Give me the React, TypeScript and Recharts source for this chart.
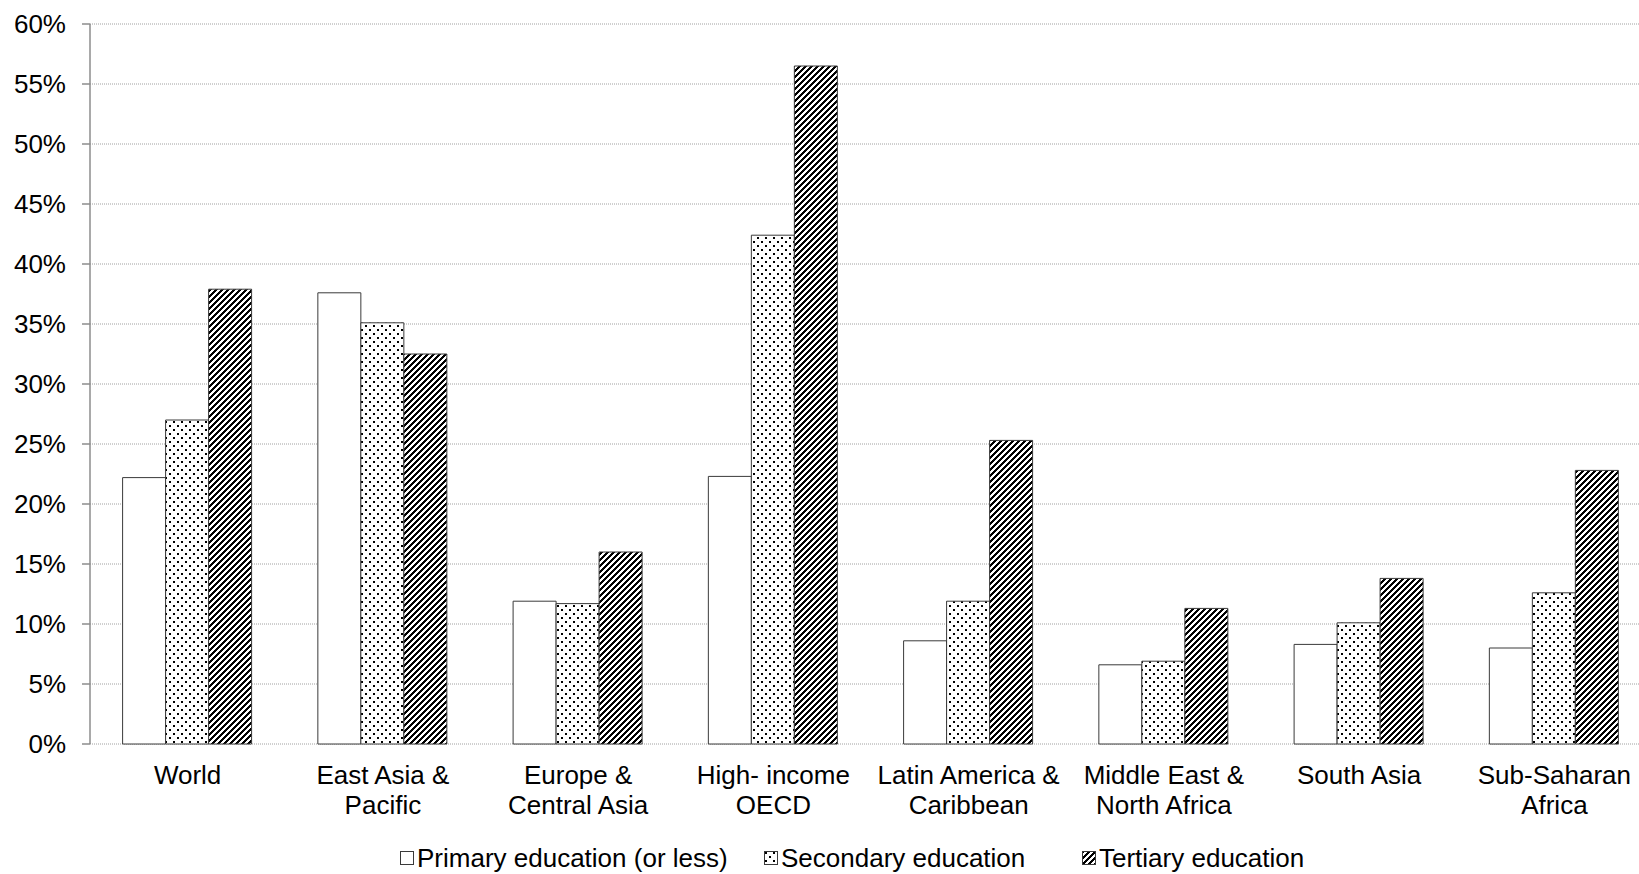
import React from "react";
import {
  BarChart,
  Bar,
  XAxis,
  YAxis,
  CartesianGrid,
  Legend,
} from "recharts";

const FONT = '"Liberation Sans", Arial, sans-serif';

// regions (categories) and how their tick labels wrap
const regions = [
  "World",
  "East Asia & Pacific",
  "Europe & Central Asia",
  "High- income OECD",
  "Latin America & Caribbean",
  "Middle East & North Africa",
  "South Asia",
  "Sub-Saharan Africa",
];
const regionLines = [
  ["World"],
  ["East Asia &", "Pacific"],
  ["Europe &", "Central Asia"],
  ["High- income", "OECD"],
  ["Latin America &", "Caribbean"],
  ["Middle East &", "North Africa"],
  ["South Asia"],
  ["Sub-Saharan", "Africa"],
];

// share, in %
const primary = [22.2, 37.6, 11.9, 22.3, 8.6, 6.6, 8.3, 8.0];
const secondary = [27.0, 35.1, 11.7, 42.4, 11.9, 6.9, 10.1, 12.6];
const tertiary = [37.9, 32.5, 16.0, 56.5, 25.3, 11.3, 13.8, 22.8];

const yTicks = [0, 5, 10, 15, 20, 25, 30, 35, 40, 45, 50, 55, 60];
const edgeTicks = [0, 1, 2, 3, 4, 5, 6, 7, 8];

const seriesInfo = [
  { key: "primary", name: "Primary education (or less)", fill: "#ffffff", legendWidth: 364 },
  { key: "secondary", name: "Secondary education", fill: "url(#dots)", legendWidth: 318 },
  { key: "tertiary", name: "Tertiary education", fill: "url(#stripes)", legendWidth: 260 },
];

const data = regions.map((r, i) => ({
  region: r,
  primary: primary[i],
  secondary: secondary[i],
  tertiary: tertiary[i],
}));

const BORDER = "#3a3a3a";
const AXIS = "#8c8c8c";
const STRIPE = 6; // pattern tile size, px

function CategoryTick(props: any) {
  const { x, y, payload } = props;
  const idx = regions.indexOf(payload.value);
  const lines = regionLines[idx] || [payload.value];
  return (
    <text x={x} y={y} textAnchor="middle" fontSize={26} fontFamily={FONT} fill="#000">
      {lines.map((l, i) => (
        <tspan key={i} x={x} dy={i === 0 ? 40 : 30}>
          {l}
        </tspan>
      ))}
    </text>
  );
}

function LegendContent() {
  return (
    <div
      style={{
        display: "flex",
        alignItems: "center",
        fontFamily: FONT,
        fontSize: 26,
        lineHeight: "30px",
        color: "#000",
        whiteSpace: "nowrap",
      }}
    >
      {seriesInfo.map((s) => (
        <div key={s.key} style={{ display: "flex", alignItems: "center", width: s.legendWidth }}>
          <svg width={14} height={14} style={{ display: "block" }}>
            <rect x={0.5} y={0.5} width={13} height={13} fill={s.fill} stroke={BORDER} />
          </svg>
          <span style={{ marginLeft: 3 }}>{s.name}</span>
        </div>
      ))}
    </div>
  );
}

// pixel staircase for an upward diagonal hatch, like the office fill pattern
const stripeRows = Array.from({ length: STRIPE }, (_, y) => (STRIPE - y) % STRIPE);

export default function App() {
  return (
    <div
      style={{
        position: "absolute",
        left: 0,
        top: 0,
        width: 1639,
        height: 874,
        overflow: "hidden",
        background: "#fff",
      }}
    >
      <BarChart
        width={1660}
        height={874}
        data={data}
        margin={{ top: 24, right: 8, bottom: 0, left: 0 }}
        barCategoryGap="16.7%"
        barGap={0}
      >
        <defs>
          <pattern id="dots" width={8} height={8} patternUnits="userSpaceOnUse">
            <rect width={8} height={8} fill="#fff" />
            <rect x={1} y={1} width={2} height={2} fill="#000" />
            <rect x={5} y={5} width={2} height={2} fill="#000" />
          </pattern>
          <pattern id="stripes" width={STRIPE} height={STRIPE} patternUnits="userSpaceOnUse">
            <rect width={STRIPE} height={STRIPE} fill="#fff" />
            {stripeRows.map((s, y) => (
              <g key={y}>
                <rect x={s} y={y} width={3} height={1} fill="#000" shapeRendering="crispEdges" />
                <rect x={s - STRIPE} y={y} width={3} height={1} fill="#000" shapeRendering="crispEdges" />
              </g>
            ))}
          </pattern>
        </defs>
        <CartesianGrid
          xAxisId="cat"
          vertical={false}
          stroke="#a0a0a0"
          strokeDasharray="1 1"
        />
        <XAxis
          xAxisId="edge"
          type="number"
          domain={[0, 8]}
          ticks={edgeTicks}
          tick={false}
          height={0}
          axisLine={{ stroke: AXIS, strokeWidth: 1.5 }}
          tickLine={{ stroke: AXIS, strokeWidth: 1.5 }}
          tickSize={8}
          allowDataOverflow
        />
        <XAxis
          xAxisId="cat"
          dataKey="region"
          interval={0}
          height={130}
          axisLine={false}
          tickLine={false}
          tickSize={0}
          tickMargin={0}
          tick={<CategoryTick />}
        />
        <YAxis
          domain={[0, 60]}
          ticks={yTicks}
          width={90}
          tickFormatter={(v: number) => `${v}%`}
          tick={{ fontSize: 26, fontFamily: FONT, fill: "#000" }}
          axisLine={{ stroke: AXIS, strokeWidth: 1.5 }}
          tickLine={{ stroke: AXIS, strokeWidth: 1.5 }}
          tickSize={8}
          tickMargin={16}
        />
        <Legend
          layout="horizontal"
          verticalAlign="middle"
          align="center"
          content={<LegendContent />}
          wrapperStyle={{ top: 843, left: 400, width: "auto", height: "auto" }}
        />
        {seriesInfo.map((s) => (
          <Bar
            key={s.key}
            xAxisId="cat"
            dataKey={s.key}
            name={s.name}
            fill={s.fill}
            stroke={BORDER}
            strokeWidth={1}
            isAnimationActive={false}
          />
        ))}
      </BarChart>
    </div>
  );
}
